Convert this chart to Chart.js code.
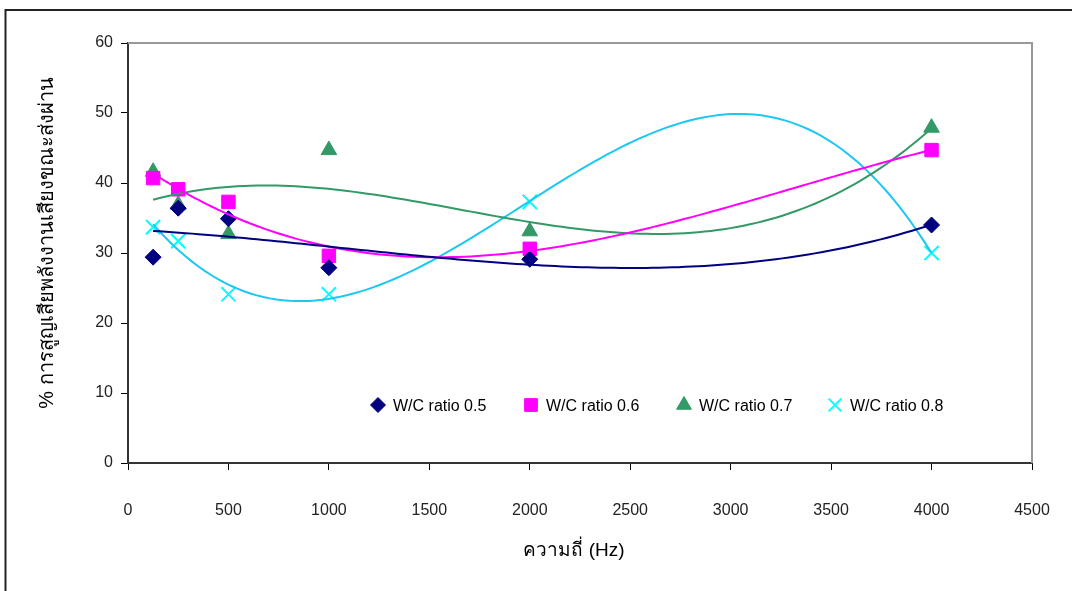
<!DOCTYPE html>
<html>
<head>
<meta charset="utf-8">
<title>Sound energy loss vs frequency</title>
<script src="https://cdn.jsdelivr.net/npm/chart.js@4.4.0/dist/chart.umd.min.js"></script>
<style>
  html, body { margin: 0; padding: 0; background: #fff; }
  #wrap { width: 1072px; height: 591px; position: relative; }
</style>
</head>
<body>
<div id="wrap"><canvas id="chart"></canvas></div>
<script>
// frequencies (Hz)
const freqs = [125, 250, 500, 1000, 2000, 4000];

// % loss per water/cement ratio
const wc05 = [29.4, 36.4, 34.9, 27.9, 29.1, 34.0];
const wc06 = [40.7, 39.1, 37.3, 29.6, 30.6, 44.7];
const wc07 = [41.6, 36.9, 32.7, 44.7, 33.1, 47.9];
const wc08 = [33.7, 31.7, 24.1, 24.1, 37.3, 30.0];

const seriesNames = ['W/C ratio 0.5', 'W/C ratio 0.6', 'W/C ratio 0.7', 'W/C ratio 0.8'];
const xTicks = [0, 500, 1000, 1500, 2000, 2500, 3000, 3500, 4000, 4500];
const yTicks = [0, 10, 20, 30, 40, 50, 60];

const xTitle = 'ความถี่ (Hz)';
const yTitle = '% การสูญเสียพลังงานเสียงขณะส่งผ่าน';

const FONT = "'Liberation Sans', Arial, sans-serif";

// 3rd order least squares fit, like a spreadsheet polynomial trendline
function cubicFit(xs, ys) {
  const n = 4;
  const A = [];
  for (let i = 0; i < n; i++) A.push(new Array(n + 1).fill(0));
  xs.forEach((xv, k) => {
    const x = xv / 1000;
    for (let i = 0; i < n; i++) {
      for (let j = 0; j < n; j++) A[i][j] += Math.pow(x, i + j);
      A[i][n] += ys[k] * Math.pow(x, i);
    }
  });
  for (let c = 0; c < n; c++) {
    let p = c;
    for (let r = c + 1; r < n; r++) if (Math.abs(A[r][c]) > Math.abs(A[p][c])) p = r;
    [A[c], A[p]] = [A[p], A[c]];
    for (let r = 0; r < n; r++) {
      if (r === c) continue;
      const f = A[r][c] / A[c][c];
      for (let k = c; k <= n; k++) A[r][k] -= f * A[c][k];
    }
  }
  const coef = A.map((row, i) => row[n] / row[i]);
  return xv => {
    const x = xv / 1000;
    return coef[0] + coef[1] * x + coef[2] * x * x + coef[3] * x * x * x;
  };
}

function trendPoints(xs, ys) {
  const f = cubicFit(xs, ys);
  const lo = Math.min(...xs), hi = Math.max(...xs);
  const pts = [];
  for (let i = 0; i <= 120; i++) {
    const x = lo + (hi - lo) * i / 120;
    pts.push({ x: x, y: f(x) });
  }
  return pts;
}

const styles = [
  { pointStyle: 'rectRot', radius: 8, color: '#000080', line: '#000080', borderWidth: 1 },
  { pointStyle: 'rect', radius: 9.5, color: '#FF00FF', line: '#FF00FF', borderWidth: 1 },
  { pointStyle: 'triangle', radius: 9, color: '#339966', line: '#339966', borderWidth: 1 },
  { pointStyle: 'crossRot', radius: 10, color: '#00FFFF', line: '#1CC8F2', borderWidth: 2 },
];
const allValues = [wc05, wc06, wc07, wc08];

const datasets = [];
allValues.forEach((vals, i) => {
  const s = styles[i];
  datasets.push({
    label: seriesNames[i],
    data: freqs.map((f, k) => ({ x: f, y: vals[k] })),
    showLine: false,
    pointStyle: s.pointStyle,
    pointRadius: s.radius,
    pointBackgroundColor: s.color,
    pointBorderColor: s.color,
    pointBorderWidth: s.borderWidth,
    order: 1,
  });
  datasets.push({
    label: seriesNames[i] + ' trend',
    data: trendPoints(freqs, vals),
    showLine: true,
    borderColor: s.line,
    borderWidth: 2,
    pointRadius: 0,
    tension: 0,
    order: 0,
  });
});

// frame, plot border, axis titles and legend
const decorations = {
  id: 'decorations',
  beforeDraw(chart) {
    const ctx = chart.ctx;
    ctx.save();
    ctx.fillStyle = '#fff';
    ctx.fillRect(0, 0, chart.width, chart.height);
    ctx.strokeStyle = '#222';
    ctx.lineWidth = 2;
    ctx.beginPath();
    ctx.moveTo(5.5, chart.height + 5);
    ctx.lineTo(5.5, 10);
    ctx.lineTo(chart.width + 5, 10);
    ctx.stroke();
    ctx.restore();
  },
  beforeDatasetsDraw(chart) {
    const { ctx, chartArea: a } = chart;
    ctx.save();
    ctx.strokeStyle = '#999';
    ctx.lineWidth = 2;
    ctx.beginPath();
    ctx.moveTo(a.left, a.top);
    ctx.lineTo(a.right, a.top);
    ctx.lineTo(a.right, a.bottom);
    ctx.stroke();
    ctx.restore();
  },
  afterDraw(chart) {
    const { ctx, chartArea: a } = chart;
    ctx.save();
    ctx.fillStyle = '#000';
    ctx.textBaseline = 'middle';
    ctx.textAlign = 'center';
    ctx.font = '19px ' + FONT;
    ctx.fillText(xTitle, 574, 551);

    ctx.translate(47, 243);
    ctx.rotate(-Math.PI / 2);
    ctx.font = '20px ' + FONT;
    ctx.fillText(yTitle, 0, 0);
    ctx.restore();

    // legend inside the plot area
    ctx.save();
    ctx.font = '16px ' + FONT;
    ctx.textBaseline = 'middle';
    ctx.textAlign = 'left';
    const ly = 406;
    const lx = [378, 531, 684, 835];
    styles.forEach((s, i) => {
      ctx.fillStyle = s.color;
      ctx.strokeStyle = s.color;
      ctx.lineWidth = s.borderWidth;
      Chart.helpers.drawPoint(ctx, {
        pointStyle: s.pointStyle,
        radius: s.pointStyle === 'crossRot' ? 9 : s.radius - 0.5,
        borderWidth: s.borderWidth,
        rotation: 0,
      }, lx[i], ly - 1);
      ctx.fillStyle = '#000';
      ctx.fillText(seriesNames[i], lx[i] + 15, ly + 1);
    });
    ctx.restore();
  },
};

new Chart(document.getElementById('chart'), {
  type: 'scatter',
  data: { datasets: datasets },
  plugins: [decorations],
  options: {
    responsive: true,
    maintainAspectRatio: false,
    animation: false,
    layout: { padding: { left: 0, right: 40, top: 43, bottom: 0 } },
    plugins: {
      legend: { display: false },
      tooltip: { enabled: false },
    },
    scales: {
      x: {
        type: 'linear',
        min: 0,
        max: 4500,
        afterBuildTicks: scale => { scale.ticks = xTicks.map(v => ({ value: v })); },
        afterFit: scale => {
          scale.height = 128;
          scale.paddingLeft = 0;
          scale.paddingRight = 0;
        },
        grid: { drawOnChartArea: false, color: 'rgba(0,0,0,0)', tickColor: '#000', tickLength: 7 },
        border: { color: '#333', width: 2 },
        ticks: {
          color: '#222', padding: 31, maxRotation: 0,
          font: { family: FONT, size: 16 },
          callback: v => String(v),
        },
      },
      y: {
        min: 0,
        max: 60,
        afterBuildTicks: scale => { scale.ticks = yTicks.map(v => ({ value: v })); },
        afterFit: scale => { scale.width = 128; },
        grid: { drawOnChartArea: false, color: 'rgba(0,0,0,0)', tickColor: '#000', tickLength: 7 },
        border: { color: '#333', width: 2 },
        ticks: { color: '#222', padding: 8, font: { family: FONT, size: 16 }, callback: v => String(v) },
      },
    },
  },
});
</script>
</body>
</html>
